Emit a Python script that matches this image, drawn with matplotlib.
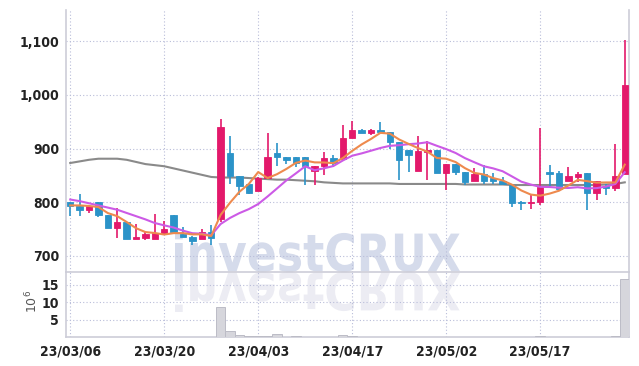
import numpy as np
import matplotlib
matplotlib.use('Agg')
import matplotlib.pyplot as plt
from matplotlib.textpath import TextPath
from matplotlib.patches import PathPatch
from matplotlib.font_manager import FontProperties
from matplotlib.transforms import Affine2D, IdentityTransform
from matplotlib.ticker import FuncFormatter

plt.rcParams['font.family'] = ['DejaVu Sans']

# daily candles (trading days from 23/03/06)
opens = [801, 793, 786, 801, 777, 752, 764, 731, 733, 731,
         740, 777, 741, 735, 731, 745, 768, 891, 848, 833,
         820, 845, 891, 885, 885, 885, 859, 867, 883, 881,
         920, 934, 928, 934, 930, 913, 898, 859, 893, 898,
         854, 872, 857, 839, 853, 845, 840, 832, 800, 799,
         800, 856, 854, 839, 847, 854, 817, 831, 826, 853]
closes = [793, 785, 793, 776, 752, 764, 731, 735, 740, 743,
          750, 744, 735, 728, 744, 734, 941, 848, 830, 817,
          845, 885, 884, 879, 873, 867, 868, 883, 873, 920,
          934, 928, 934, 930, 913, 879, 887, 895, 897, 854,
          872, 856, 838, 853, 839, 839, 834, 798, 799, 801,
          829, 853, 825, 848, 853, 817, 839, 827, 848, 1019]
highs = [801, 815, 793, 801, 777, 789, 764, 760, 747, 778,
         765, 777, 753, 737, 751, 758, 955, 924, 848, 833,
         847, 929, 911, 885, 885, 885, 868, 893, 887, 943,
         951, 937, 937, 950, 930, 913, 898, 923, 914, 898,
         872, 872, 857, 863, 870, 854, 847, 832, 802, 813,
         939, 870, 859, 866, 857, 854, 839, 833, 909, 1103]
lows = [774, 774, 780, 773, 752, 734, 731, 731, 729, 731,
        740, 744, 735, 721, 731, 721, 764, 833, 813, 815,
        820, 845, 867, 872, 866, 832, 832, 850, 865, 881,
        920, 928, 925, 928, 900, 842, 856, 859, 842, 854,
        822, 850, 832, 839, 834, 834, 834, 791, 785, 788,
        794, 831, 825, 839, 837, 786, 805, 814, 820, 853]
# volume, millions
volumes = [0.05, 0.05, 0.05, 0.05, 0.05, 0.05, 0.05, 0.05, 0.05, 0.05,
           0.05, 0.05, 0.05, 0.05, 0.05, 0.05, 8.7, 1.75, 0.7, 0.4,
           0.3, 0.3, 0.9, 0.2, 0.4, 0.1, 0.1, 0.1, 0.1, 0.65,
           0.3, 0.1, 0.1, 0.1, 0.1, 0.1, 0.05, 0.05, 0.05, 0.05,
           0.05, 0.05, 0.05, 0.05, 0.05, 0.05, 0.05, 0.05, 0.05, 0.05,
           0.25, 0.05, 0.05, 0.05, 0.05, 0.05, 0.05, 0.05, 0.3, 16.7]

# moving averages
ma_short = [794, 794, 793, 791, 779.8, 774, 763.2, 751.6, 744.4, 742.6,
            739.8, 742.4, 742.4, 740, 740.2, 737, 776.4, 799, 819.4, 834,
            856.2, 845, 852.2, 862, 873.2, 877.6, 874.2, 874, 872.8, 882.2,
            895.6, 907.6, 917.8, 929.2, 927.8, 916.8, 908.6, 900.8, 894.2, 882.4,
            881, 874.8, 863.4, 854.6, 851.6, 845, 840.6, 832.6, 821.8, 814.2,
            812.2, 816, 821.4, 831.2, 841.6, 839.2, 836.4, 836.8, 836.8, 870]
ma_mid = [805, 802, 798, 794, 790, 786, 780, 774, 768, 761.2,
          756.9, 752.8, 747, 742.2, 741.4, 738.4, 759.4, 770.7, 779.7, 787.1,
          796.6, 810.7, 825.6, 840.7, 853.6, 866.9, 859.6, 863.1, 867.4, 877.7,
          886.6, 890.9, 895.9, 901, 905, 906.2, 908.1, 909.3, 911.7, 905.1,
          898.9, 891.7, 882.1, 874.4, 867, 863, 857.7, 848, 838.2, 832.9,
          828.6, 828.3, 827, 826.5, 827.9, 825.7, 826.2, 829.1, 834, 855.8]
ma_long = [873, 876, 879, 881, 881, 881, 879, 875, 871, 869,
           867, 863, 859, 855, 851, 847, 846, 846, 846, 845,
           844, 843, 842, 842, 841, 840, 839, 837, 836, 835,
           835, 835, 835, 835, 835, 834, 834, 834, 834, 834,
           834, 834, 833, 833, 833, 833, 833, 832, 832, 832,
           832, 832, 832, 832, 832, 832, 832, 833, 834, 837]

tick_pos = [0, 10, 20, 30, 40, 50]
tick_labels = ['23/03/06', '23/03/20', '23/04/03', '23/04/17', '23/05/02', '23/05/17']

up_color = '#e3196b'
down_color = '#2b93c8'
grid_color = '#b9bdd9'
spine_color = '#cdcdd8'

fig = plt.figure(figsize=(6.39, 3.66), dpi=100)
ax = fig.add_axes([66/639, 1-272/366, 563/639, 262/366])
axv = fig.add_axes([66/639, 1-337.3/366, 563/639, 65.3/366], sharex=ax)
ax.set_facecolor('none')
axv.set_facecolor('none')

x = np.arange(len(closes))
o = np.array(opens)
c = np.array(closes)
colors = [up_color if cc >= oo else down_color for oo, cc in zip(o, c)]

ax.vlines(x, lows, highs, colors=colors, linewidth=1.2, zorder=3)
bottoms = np.minimum(o, c)
heights = np.maximum(np.abs(c - o), 1.5)
ax.bar(x, heights, bottom=bottoms, width=0.68, color=colors, edgecolor=colors,
       linewidth=0.6, zorder=4)

ax.plot(x, ma_long, color='#8a8a8a', linewidth=1.5, zorder=2)
ax.plot(x, ma_mid, color='#cc5ae6', linewidth=1.5, zorder=5)
ax.plot(x, ma_short, color='#ee8a4e', linewidth=1.5, zorder=5)

axv.bar(x, volumes, width=1.0, color='#d6d6dc', edgecolor='#bcbcc6', linewidth=0.7, zorder=3)

ax.set_xlim(-0.45, 59.45)
ax.set_ylim(670, 1158)
axv.set_ylim(0, 18.7)

ax.set_yticks([700, 800, 900, 1000, 1100])
ax.yaxis.set_major_formatter(FuncFormatter(lambda v, p: f'{int(v):,}'))
axv.set_yticks([5, 10, 15])
axv.set_xticks(tick_pos)
axv.set_xticklabels(tick_labels)
plt.setp(ax.get_xticklabels(), visible=False)

for a in (ax, axv):
    a.grid(True, linestyle=(0, (1, 2)), color=grid_color, linewidth=0.8)
    a.set_axisbelow(True)
    a.tick_params(length=0, labelsize=10, colors='#222222', pad=5)
    for lab in a.get_xticklabels() + a.get_yticklabels():
        lab.set_fontweight('bold')
        lab.set_fontstretch('condensed')
    a.spines['top'].set_visible(False)
    for s in ('left', 'right', 'bottom'):
        a.spines[s].set_color(spine_color)
        a.spines[s].set_linewidth(1.2)

axv.set_ylabel('$10^6$', color='#555555', fontsize=9)
axv.yaxis.set_label_coords(-0.045, 0.55)

# watermark and its reflection
prop = FontProperties(family='DejaVu Sans', weight='bold')
tp = TextPath((0, 0), 'investCRUX', size=40, prop=prop)
ext = tp.get_extents()
sx = 285 / ext.width
sy = 40 / ext.height
wm = Affine2D().translate(-ext.x0, -ext.y0).scale(sx, sy).translate(175, 366 - 272)
fig.add_artist(PathPatch(tp, transform=wm + IdentityTransform(), facecolor='#d5dbeb',
                         edgecolor='none', zorder=-1))
wm_r = Affine2D().translate(-ext.x0, -ext.y0).scale(sx, -sy).translate(175, 366 - 272)
fig.add_artist(PathPatch(tp, transform=wm_r + IdentityTransform(), facecolor='#ececf3',
                         edgecolor='none', zorder=-1))

fig.savefig('out.png', dpi=100)
